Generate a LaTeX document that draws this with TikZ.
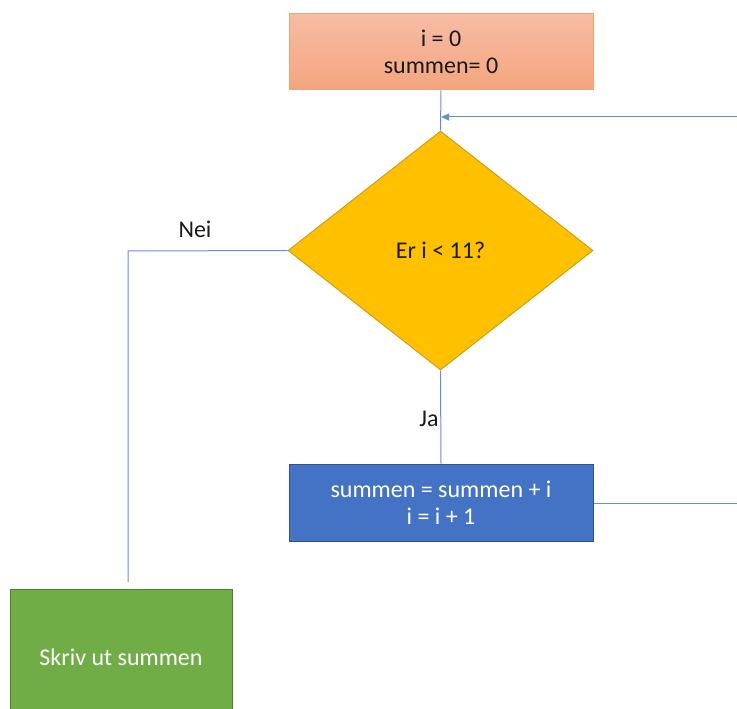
\documentclass[tikz,border=0pt]{standalone}
\usepackage{fontspec}
\setmainfont{Carlito}
\usetikzlibrary{shapes.geometric,arrows.meta}
\definecolor{lineblue}{HTML}{4472C4}
\definecolor{salmontop}{HTML}{F6BCA4}
\definecolor{salmonbot}{HTML}{F4A57F}
\definecolor{salmonedge}{HTML}{F4A070}
\definecolor{gold}{HTML}{FFC000}
\definecolor{goldedge}{HTML}{C9A01A}
\definecolor{boxblue}{HTML}{4472C4}
\definecolor{boxblueedge}{HTML}{2F528F}
\definecolor{green}{HTML}{70AD47}
\definecolor{greenedge}{HTML}{507E32}
\definecolor{ink}{HTML}{1A1A1A}
\tikzset{
  txt/.style={font=\fontsize{24}{27}\selectfont, align=center},
  conn/.style={draw=lineblue!80, line width=1pt},
}
\begin{document}
\begin{tikzpicture}[x=1pt,y=-1pt]
\useasboundingbox (0,0) rectangle (737,709);
\clip (0,0) rectangle (737,709);
% start box
\node[txt, draw=salmonedge, line width=1pt, top color=salmontop, bottom color=salmonbot,
      minimum width=304pt, minimum height=76pt, inner sep=0pt, text=ink] (start) at (441,52) {i = 0\\summen= 0};
% diamond
\node[diamond, draw=goldedge, fill=gold, line width=1pt, minimum width=305pt, minimum height=239pt,
      inner sep=0pt, txt, text=ink] (cond) at (440.5,250.5) {Er i {\textless} 11?};
% body
\node[txt, draw=boxblueedge, fill=boxblue, line width=1pt, minimum width=304pt, minimum height=77pt,
      inner sep=0pt, text=white] (body) at (441,502.5) {summen = summen + i\\i = i + 1};
% output
\node[draw=greenedge, fill=green, line width=1pt, minimum width=222pt, minimum height=136pt,
      inner sep=0pt] (out) at (121,657) {};
\node[txt, text=white] (outtxt) at (121,657) {Skriv ut summen};
% coordinates
\coordinate (loopin) at (737,117);
\coordinate (merge) at (441,117);
\coordinate (loopout) at (737,503);
\coordinate (nocorner) at (128,251);
\coordinate (noend) at (128,582);
% connectors
\draw[conn] (start.south) -- (cond.north);
\draw[conn, -{Triangle[length=8pt,width=7pt]}] (loopin) -- (merge);
\draw[conn] (cond.west) -- (nocorner) -- (noend);
\draw[conn] (cond.south) -- (body.north);
\draw[conn] (body.east |- loopout) -- (loopout);
% labels
\node[txt, text=ink] (nei) at (195,229) {Nei};
\node[txt, text=ink] (ja) at (429,419) {Ja};
\end{tikzpicture}
\end{document}
